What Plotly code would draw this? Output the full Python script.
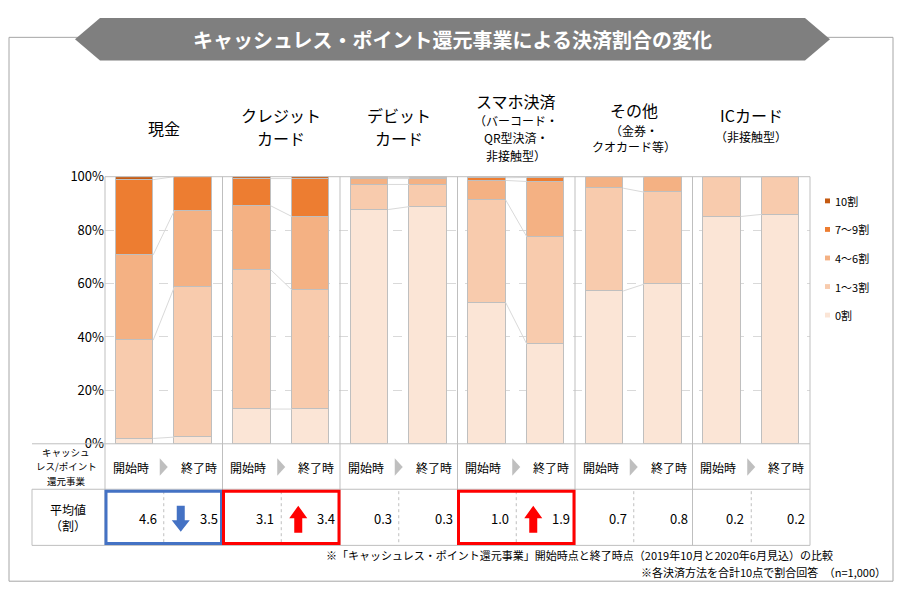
import plotly.graph_objects as go
import numpy as np

FW, FH = 886, 588  # figure size; page has 8px body margin
categories = ["現金", "クレジットカード", "デビットカード", "スマホ決済", "その他", "ICカード"]
series = ["0割", "1～3割", "4～6割", "7～9割", "10割"]
colors = ["#FBE5D6", "#F8CBAD", "#F4B183", "#ED7D31", "#C55A11"]
start_vals = {
    "0割":   [2.0, 13.0, 87.7, 52.9, 57.2, 85.1],
    "1～3割": [36.8, 52.2, 9.4, 38.4, 38.5, 14.9],
    "4～6割": [31.9, 23.9, 2.2, 7.3, 4.3, 0.0],
    "7～9割": [28.2, 10.2, 0.4, 1.0, 0.0, 0.0],
    "10割":  [1.1, 0.7, 0.3, 0.4, 0.0, 0.0],
}
end_vals = {
    "0割":   [2.5, 13.0, 88.8, 37.3, 59.8, 85.9],
    "1～3割": [56.2, 44.6, 8.3, 40.2, 34.4, 14.1],
    "4～6割": [28.6, 27.5, 2.2, 20.7, 5.8, 0.0],
    "7～9割": [12.7, 14.2, 0.4, 1.5, 0.0, 0.0],
    "10割":  [0.0, 0.7, 0.3, 0.3, 0.0, 0.0],
}
avg_start = ["4.6", "3.1", "0.3", "1.0", "0.7", "0.2"]
avg_end = ["3.5", "3.4", "0.3", "1.9", "0.8", "0.2"]
trend = ["down", "up", None, "up", None, None]
yticks = [0, 20, 40, 60, 80, 100]

def px(x): return (x - 8) / FW
def py(y): return 1 - (y - 8) / FH

X0, X1, Y0, Y1 = 105, 810, 172, 448
n = len(categories)
idx = np.arange(n)
OFF, BW = 0.25, 0.32
def ux(u):
    return X0 + (u + 0.5) / n * (X1 - X0)

fig = go.Figure()
for s, c in zip(series, colors):
    fig.add_trace(go.Bar(x=list(idx - OFF) + list(idx + OFF), y=start_vals[s] + end_vals[s],
                         width=BW, marker=dict(color=c, line=dict(color="#BFBFBF", width=1)),
                         name=s, showlegend=False))
cs = np.cumsum([start_vals[s] for s in series], axis=0)
ce = np.cumsum([end_vals[s] for s in series], axis=0)
for g in range(n):
    for k in range(len(series) - 1):
        fig.add_trace(go.Scatter(x=[g - OFF + BW / 2, g + OFF - BW / 2], y=[cs[k][g], ce[k][g]],
                                 mode="lines", line=dict(color="#D9D9D9", width=1),
                                 showlegend=False, hoverinfo="skip"))

fig.update_layout(
    width=FW, height=FH, margin=dict(l=0, r=0, t=0, b=0), barmode="stack",
    plot_bgcolor="white", paper_bgcolor="white", bargap=0,
    font=dict(family="Noto Sans CJK JP", color="#000"),
    xaxis=dict(domain=[px(X0), px(X1)], range=[-0.5, n - 0.5], showticklabels=False,
               showgrid=False, zeroline=False),
    yaxis=dict(domain=[py(Y1), py(Y0)], range=[0, 100], tickvals=yticks,
               ticktext=[f"{v}%" for v in yticks], tickfont=dict(size=13),
               showgrid=True, gridcolor="#D9D9D9", griddash="dash", zeroline=False, ticks=""),
)

shapes, ann = [], []
def line(x0, y0, x1, y1, color="#BFBFBF", width=1, dash=None):
    shapes.append(dict(type="line", xref="paper", yref="paper", x0=px(x0), y0=py(y0), x1=px(x1), y1=py(y1),
                       line=dict(color=color, width=width, dash=dash)))
def text(x, y, t, size=13, color="#000", xanchor="center", bold=False):
    ann.append(dict(xref="paper", yref="paper", x=px(x), y=py(y), text=f"<b>{t}</b>" if bold else t,
                    showarrow=False, xanchor=xanchor, yanchor="middle", font=dict(size=size, color=color)))

shapes.append(dict(type="rect", xref="paper", yref="paper", x0=px(9), y0=py(590), x1=px(893), y1=py(28),
                   line=dict(color="#A6A6A6", width=1)))
shapes.append(dict(type="path", xref="paper", yref="paper",
                   path=f"M {px(75)},{py(30)} L {px(100)},{py(8)} L {px(805)},{py(8)} L {px(830)},{py(30)} L {px(805)},{py(52)} L {px(100)},{py(52)} Z",
                   fillcolor="#7F7F7F", line=dict(width=0)))
text(452, 30, "キャッシュレス・ポイント還元事業による決済割合の変化", size=20, color="white", bold=True)

for g in range(n + 1):
    line(ux(g - 0.5), Y0, ux(g - 0.5), 553)
line(32, 448, X1, 448); line(32, 495, X1, 495); line(32, 553, X1, 553)
line(32, 495, 32, 553); line(X0, Y0, X1, Y0)
text(66, 456, "キャッシュ", size=9.5)
text(66, 471, "レス/ポイント", size=9.5)
text(66, 486, "還元事業", size=9.5)
text(68, 524, "平均値<br>（割）", size=12)
for g in range(n):
    cx = ux(g)
    text(cx - 33, 472, "開始時", size=12)
    text(cx + 35, 472, "終了時", size=12)
    shapes.append(dict(type="path", xref="paper", yref="paper",
                       path=f"M {px(cx-4)},{py(463)} L {px(cx+4)},{py(472)} L {px(cx-4)},{py(481)} Z",
                       fillcolor="#BFBFBF", line=dict(width=0)))
    line(cx, 497, cx, 551, color="#BFBFBF", dash="dot")
    text(cx - 5, 525, avg_start[g], size=13, xanchor="right")
    text(cx + 56, 525, avg_end[g], size=13, xanchor="right")
    if trend[g]:
        col = "#4472C4" if trend[g] == "down" else "#FF0000"
        ax = cx + 17
        if trend[g] == "down":
            p = f"M {px(ax-4)},{py(512)} L {px(ax+4)},{py(512)} L {px(ax+4)},{py(527)} L {px(ax+9)},{py(527)} L {px(ax)},{py(539)} L {px(ax-9)},{py(527)} L {px(ax-4)},{py(527)} Z"
        else:
            p = f"M {px(ax-4)},{py(540)} L {px(ax+4)},{py(540)} L {px(ax+4)},{py(525)} L {px(ax+9)},{py(525)} L {px(ax)},{py(512)} L {px(ax-9)},{py(525)} L {px(ax-4)},{py(525)} Z"
        shapes.append(dict(type="path", xref="paper", yref="paper", path=p, fillcolor=col, line=dict(width=0)))
        shapes.append(dict(type="rect", xref="paper", yref="paper", x0=px(ux(g - 0.5) + 1), x1=px(ux(g + 0.5) - 1),
                           y0=py(551), y1=py(497), line=dict(color=col, width=3)))

hdr = [
    [(122, "現金", 16)],
    [(108, "クレジット", 16), (132, "カード", 16)],
    [(108, "デビット", 16), (132, "カード", 16)],
    [(94, "スマホ決済", 16), (114, "（バーコード・", 12), (132, "QR型決済・", 12), (150, "非接触型）", 12)],
    [(103, "その他", 16), (124, "（金券・", 12), (141, "クオカード等）", 12)],
    [(108, "ICカード", 16), (130, "（非接触型）", 12)],
]
for g, items in enumerate(hdr):
    for y, t, s in items:
        text(ux(g), y, t, size=s)

for i, (s, c) in enumerate(zip(reversed(series), reversed(colors))):
    y = 197 + i * 29.5
    shapes.append(dict(type="rect", xref="paper", yref="paper", x0=px(825), x1=px(830), y0=py(y + 2.5), y1=py(y - 2.5),
                       fillcolor=c, line=dict(width=0)))
    text(833, y, s, size=11, xanchor="left")

text(835, 563, "※「キャッシュレス・ポイント還元事業」開始時点と終了時点（2019年10月と2020年6月見込）の比較", size=11, xanchor="right")
text(888, 581, "※各決済方法を合計10点で割合回答　（n=1,000）", size=11, xanchor="right")

fig.update_layout(shapes=shapes, annotations=ann)
fig.write_html("out.html")
